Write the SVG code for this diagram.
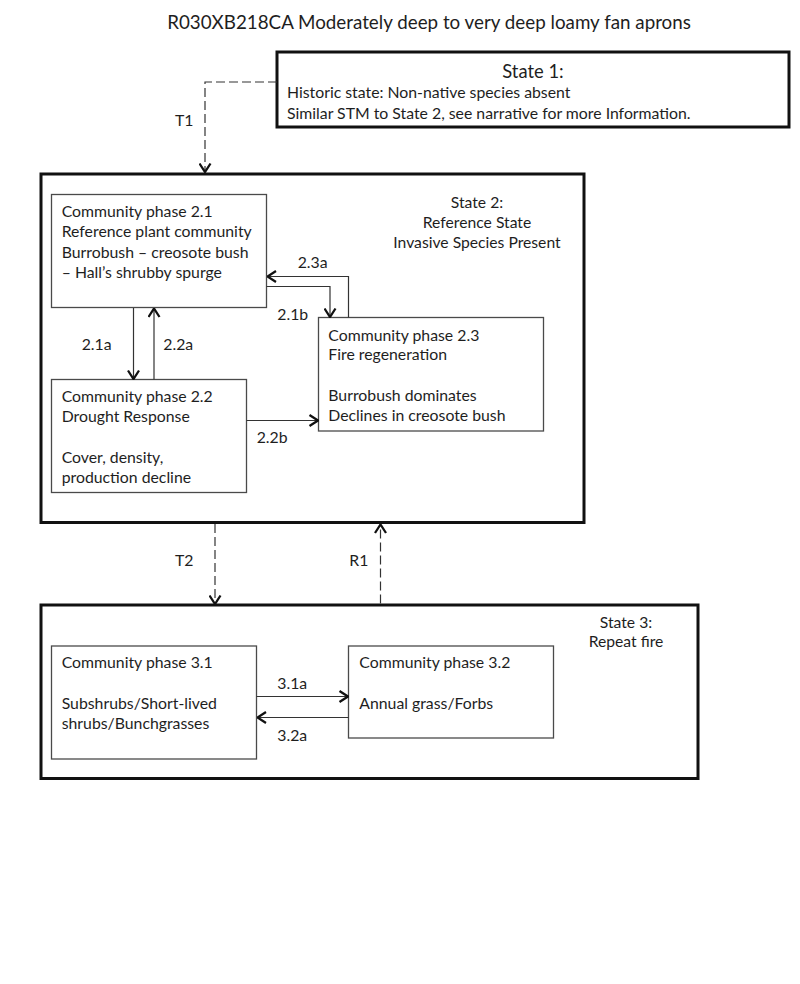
<svg xmlns="http://www.w3.org/2000/svg" width="800" height="984" viewBox="0 0 800 984">
<style>
text{font-family:Lato,"Liberation Sans",sans-serif;fill:#1e1e1e;font-size:15.8px}
.title{font-size:18.8px}
.big{font-size:18.4px}
.st{font-size:15.7px}
.state{fill:#fff;stroke:#111;stroke-width:3}
.phase{fill:#fff;stroke:#4a4a4a;stroke-width:1.3}
.conn{fill:none;stroke:#333;stroke-width:1.2}
.dash{fill:none;stroke:#333;stroke-width:1.2;stroke-dasharray:9,4}
</style>
<defs>
<marker id="arr" viewBox="0 0 13 13" refX="12" refY="6.5" markerWidth="13" markerHeight="13" markerUnits="userSpaceOnUse" orient="auto">
<path d="M3.5,1 L12,6.5 L3.5,12" fill="none" stroke="#111" stroke-width="2.3"/>
</marker>
</defs>
<rect width="800" height="984" fill="#fff"/>
<text class="title" x="429" y="29" text-anchor="middle">R030XB218CA Moderately deep to very deep loamy fan aprons</text>

<g id="state1">
<rect class="state" x="277" y="52" width="512" height="75"/>
<text class="big" x="533" y="78" text-anchor="middle">State 1:</text>
<text x="287" y="98">Historic state: Non-native species absent</text>
<text x="287" y="118.5">Similar STM to State 2, see narrative for more Information.</text>
</g>

<g id="state2">
<rect class="state" x="41" y="174" width="543" height="348.5"/>
<text class="st" x="477" y="208" text-anchor="middle">State 2:</text>
<text class="st" x="477" y="228" text-anchor="middle">Reference State</text>
<text class="st" x="477" y="248" text-anchor="middle">Invasive Species Present</text>
</g>

<g id="phase21">
<rect class="phase" x="51.5" y="194.5" width="215" height="113"/>
<text x="61.7" y="217.3">Community phase 2.1</text>
<text x="61.7" y="237.3">Reference plant community</text>
<text x="61.7" y="257.5">Burrobush – creosote bush</text>
<text x="61.7" y="277.7">– Hall’s shrubby spurge</text>
</g>

<g id="phase22">
<rect class="phase" x="51.5" y="379.5" width="195" height="113"/>
<text x="61.7" y="401.7">Community phase 2.2</text>
<text x="61.7" y="421.7">Drought Response</text>
<text x="61.7" y="463.3">Cover, density,</text>
<text x="61.7" y="483.3">production decline</text>
</g>

<g id="phase23">
<rect class="phase" x="318.5" y="317.5" width="225" height="113.5"/>
<text x="328.3" y="340.7">Community phase 2.3</text>
<text x="328.3" y="360.3">Fire regeneration</text>
<text x="328.3" y="401">Burrobush dominates</text>
<text x="328.3" y="421">Declines in creosote bush</text>
</g>

<g id="state3">
<rect class="state" x="41" y="605" width="657" height="173.5"/>
<text class="st" x="626" y="627.7" text-anchor="middle">State 3:</text>
<text class="st" x="626" y="647.3" text-anchor="middle">Repeat fire</text>
</g>

<g id="phase31">
<rect class="phase" x="51.5" y="646" width="205" height="113"/>
<text x="61.7" y="668.3">Community phase 3.1</text>
<text x="61.7" y="709.3">Subshrubs/Short-lived</text>
<text x="61.7" y="729.3">shrubs/Bunchgrasses</text>
</g>

<g id="phase32">
<rect class="phase" x="348.5" y="646" width="205" height="92"/>
<text x="359.3" y="668.3">Community phase 3.2</text>
<text x="359.3" y="709.3">Annual grass/Forbs</text>
</g>

<g id="connectors">
<path class="dash" d="M277,82 H205 V172" marker-end="url(#arr)"/>
<path class="conn" d="M133.5,308 V379" marker-end="url(#arr)"/>
<path class="conn" d="M154,379.5 V308.5" marker-end="url(#arr)"/>
<path class="conn" d="M348.5,317.5 V276.5 H267.5" marker-end="url(#arr)"/>
<path class="conn" d="M266.5,286.5 H330 V317" marker-end="url(#arr)"/>
<path class="conn" d="M246.5,420.5 H318" marker-end="url(#arr)"/>
<path class="dash" d="M215,524 V604" marker-end="url(#arr)"/>
<path class="dash" d="M380.5,603.5 V524.5" marker-end="url(#arr)"/>
<path class="conn" d="M256.5,696.5 H348" marker-end="url(#arr)"/>
<path class="conn" d="M348.5,717.5 H257.5" marker-end="url(#arr)"/>
<text x="175" y="126">T1</text>
<text x="81.7" y="350">2.1a</text>
<text x="163.3" y="350">2.2a</text>
<text x="297.7" y="268.3">2.3a</text>
<text x="277.3" y="320">2.1b</text>
<text x="256.7" y="442.7">2.2b</text>
<text x="175" y="566">T2</text>
<text x="349.3" y="566">R1</text>
<text x="277.3" y="688.7">3.1a</text>
<text x="277.3" y="740.7">3.2a</text>
</g>
</svg>
